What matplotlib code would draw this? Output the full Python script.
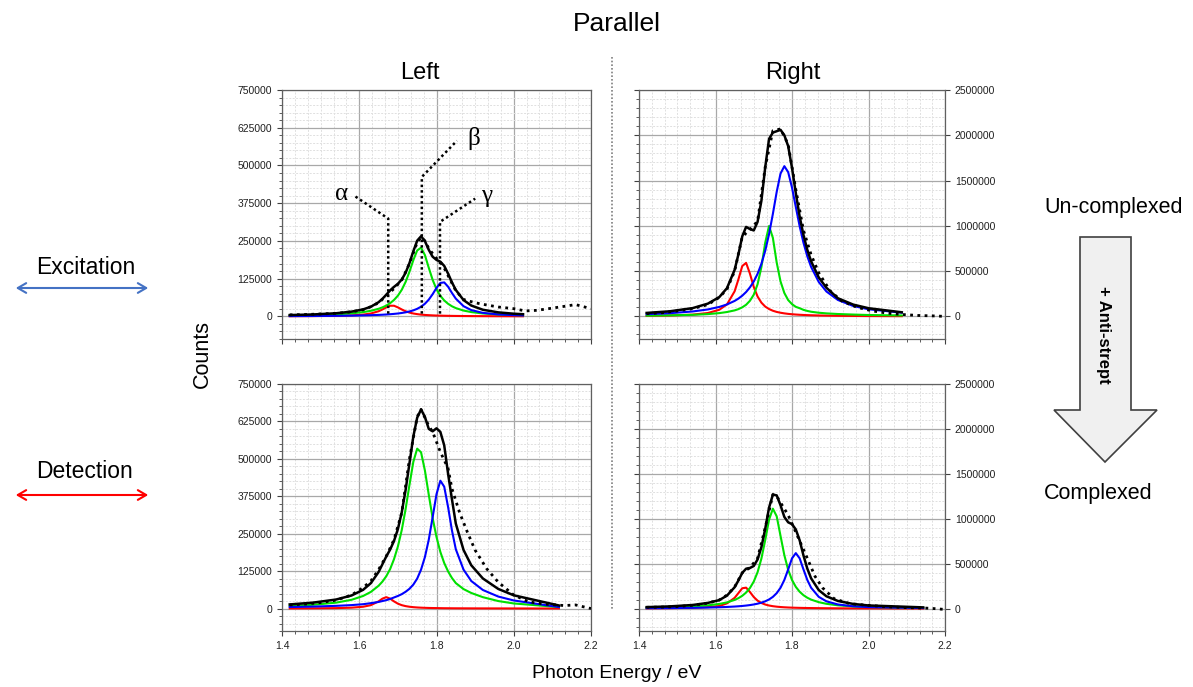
import matplotlib
matplotlib.use("Agg")
import matplotlib.pyplot as plt
from matplotlib.ticker import MultipleLocator, AutoMinorLocator, FormatStrFormatter
from matplotlib.patches import Polygon, FancyArrowPatch
from matplotlib.lines import Line2D

plt.rcParams["font.family"] = ["Liberation Sans", "DejaVu Sans"]

# ---------------------------------------------------------------- data
# energy grid of the fitted curves (eV); each panel ends at its own fit limit
fit_energy = [1.42, 1.48, 1.54, 1.58, 1.61, 1.63, 1.65, 1.66, 1.67, 1.68, 1.69,
              1.70, 1.71, 1.72, 1.73, 1.74, 1.75, 1.76, 1.77, 1.78, 1.79, 1.80,
              1.81, 1.82, 1.83, 1.84, 1.85, 1.87, 1.89, 1.92, 1.96, 2.00]
energy_tl = fit_energy + [2.024]
energy_tr = fit_energy + [2.087]
energy_bl = fit_energy + [2.117]
energy_br = fit_energy + [2.143]

# excitation, un-complexed
tl_alpha = [550, 910, 1770, 3240, 5800, 9500, 16900, 22900, 29800, 35200, 35200,
            29800, 22900, 16900, 12600, 9500, 7400, 5800, 4700, 3900, 3240, 2700,
            2350, 2030, 1770, 1560, 1380, 1110, 910, 700, 510, 390, 340]
tl_beta = [2850, 4200, 6700, 9950, 14100, 18500, 25100, 29800, 35800, 43800, 54300,
           68500, 87900, 114000, 147800, 186300, 218400, 227500, 203000, 161000, 121000, 90000,
           68000, 52700, 41600, 33400, 27400, 19200, 14200, 9600, 6300, 4400, 3700]
tl_gamma = [890, 1230, 1800, 2450, 3200, 3900, 4850, 5450, 6200, 7100, 8200,
            9500, 11200, 13400, 16200, 19900, 25000, 32000, 41800, 55400, 73500, 94300,
            110800, 112500, 98300, 77500, 58700, 33700, 20800, 11600, 6400, 4000, 3100]
tl_fit = [4290, 6340, 10270, 15640, 23100, 31900, 46850, 58150, 71800, 86100, 97700,
          107800, 122000, 144300, 176600, 215700, 250800, 265300, 249500, 220300, 197700, 187000,
          181150, 167230, 141670, 112460, 87480, 54010, 35910, 21900, 13210, 8790, 7140]
tl_data_energy = [1.42, 1.46, 1.50, 1.54, 1.58, 1.61, 1.63, 1.65, 1.67, 1.69, 1.71, 1.73,
                  1.75, 1.76, 1.77, 1.78, 1.79, 1.80, 1.81, 1.82, 1.83, 1.85, 1.87, 1.90,
                  1.92, 1.96, 2.00, 2.03, 2.06, 2.09, 2.13, 2.16, 2.20]
tl_data = [5000, 6000, 8000, 10000, 15000, 22000, 32000, 45000, 68000, 92000, 120000, 175000,
           245000, 262000, 250000, 225000, 208000, 192000, 180000, 160000, 135000, 85000, 56000, 45000,
           40000, 31000, 25500, 18000, 20000, 25500, 33000, 39000, 25500]

# excitation, complexed partner (right)
tr_alpha = [5700, 9500, 19000, 37000, 73000, 132000, 277000, 410000, 556000, 591000, 472000,
            325000, 219000, 151500, 108000, 81000, 62000, 49000, 40000, 33000, 27500, 23500,
            20200, 17500, 15400, 13600, 12100, 9800, 8100, 6300, 4700, 3500, 2200]
tr_beta = [8000, 11000, 17000, 25000, 36000, 48000, 66000, 80000, 100000, 128000, 172000,
           239000, 355000, 545000, 814000, 998000, 867000, 594000, 386000, 258000, 180000, 135000,
           105000, 90000, 72000, 60000, 51000, 40000, 33000, 26000, 20000, 15000, 10000]
tr_gamma = [24400, 34900, 53900, 76500, 104300, 131700, 170500, 196600, 228800, 268900, 320300,
            384900, 470000, 580000, 724000, 908500, 1132000, 1375000, 1577000, 1659000, 1593000, 1422000,
            1207000, 995800, 813000, 663600, 545700, 379600, 274700, 181100, 114400, 78300, 41200]
tr_fit = [38100, 55600, 90800, 140400, 213000, 311700, 513500, 686600, 884800, 987900, 964300,
          948900, 1044000, 1276500, 1646000, 1960000, 2030000, 2045000, 2060000, 2000000, 1880000, 1640000,
          1360000, 1103000, 898000, 735000, 608000, 429000, 316000, 200000, 130000, 90000, 45000]
tr_data_energy = [1.42, 1.46, 1.50, 1.54, 1.58, 1.61, 1.63, 1.65, 1.67, 1.69, 1.71, 1.73,
                  1.75, 1.77, 1.79, 1.81, 1.83, 1.85, 1.87, 1.90, 1.93, 1.97, 2.01, 2.05,
                  2.09, 2.13, 2.17, 2.20]
tr_data = [30000, 40000, 60000, 85000, 130000, 210000, 300000, 500000, 880000, 960000, 1050000, 1650000,
           2050000, 2070000, 1900000, 1400000, 950000, 680000, 480000, 280000, 170000, 100000, 60000, 35000,
           20000, 10000, 5000, 0]

# detection, un-complexed
bl_alpha = [400, 700, 1400, 2900, 6000, 11300, 23900, 33100, 38000, 33100, 23900,
            16300, 11300, 8100, 6000, 4600, 3600, 2900, 2400, 2000, 1700, 1500,
            1300, 1100, 1000, 900, 800, 700, 600, 500, 400, 300, 200]
bl_beta = [8300, 12500, 19700, 29200, 42000, 55500, 76000, 90000, 108000, 132000, 165000,
           207000, 262000, 332000, 413000, 490000, 534000, 522000, 461000, 380000, 302000, 239000,
           189000, 152000, 124000, 102000, 85000, 65000, 52000, 38000, 25000, 17000, 5000]
bl_gamma = [5000, 6500, 9000, 11500, 14500, 18000, 22000, 25000, 28000, 32000, 37000,
            42000, 48000, 56000, 66000, 80000, 100000, 130000, 172000, 230000, 305000, 382000,
            427000, 407000, 339000, 261000, 198000, 130000, 92000, 62000, 40000, 27000, 5000]
bl_fit = [13700, 19700, 30100, 43600, 62500, 84800, 121900, 148100, 174000, 197100, 225900,
          265300, 321300, 396100, 485000, 574600, 637600, 665000, 640000, 600000, 592000, 602000,
          590000, 545000, 450000, 365000, 283800, 195700, 144600, 100500, 65400, 44300, 10200]
bl_data_energy = [1.42, 1.46, 1.50, 1.54, 1.58, 1.61, 1.63, 1.65, 1.67, 1.69, 1.71, 1.73,
                  1.75, 1.76, 1.78, 1.79, 1.81, 1.83, 1.84, 1.86, 1.88, 1.90, 1.93, 1.96,
                  2.00, 2.04, 2.08, 2.13, 2.16, 2.20]
bl_data = [12000, 15000, 20000, 28000, 45000, 70000, 92000, 130000, 175000, 230000, 320000, 500000,
           640000, 665000, 610000, 590000, 523000, 468000, 400000, 320000, 255000, 195000, 133000, 88000,
           45000, 22000, 15000, 10000, 12000, 0]

# detection, complexed
br_alpha = [2400, 4000, 8100, 16300, 28200, 57600, 119000, 172600, 226000, 232500, 184500,
            128500, 87800, 61600, 44800, 33700, 26200, 20900, 16900, 14000, 11800, 10000,
            8700, 7600, 6700, 5900, 5300, 4300, 3500, 2700, 2000, 1500, 700]
br_beta = [9600, 14400, 23500, 35400, 51300, 68700, 95900, 115700, 142200, 178100, 228500,
           300000, 404700, 556500, 762800, 988500, 1112000, 1027000, 809000, 593600, 431000, 318000,
           240900, 187000, 148600, 120400, 99400, 70900, 52700, 36200, 23900, 17000, 6900]
br_gamma = [3900, 5400, 7900, 11000, 14500, 17800, 22300, 25300, 28800, 33200, 38600,
            45400, 54100, 65400, 80500, 101100, 130000, 171400, 231500, 318500, 435700, 558900,
            617000, 558900, 435700, 318500, 231500, 130000, 80500, 45400, 25300, 16000, 5300]
br_fit = [15900, 23800, 39500, 62700, 94000, 144100, 237200, 313600, 397000, 443800, 451600,
          473900, 546600, 683500, 888100, 1123300, 1268200, 1260000, 1150000, 1020000, 960000, 940000,
          880000, 760000, 591000, 444800, 336200, 205200, 136700, 84300, 51200, 34500, 12900]
br_data_energy = [1.42, 1.46, 1.50, 1.54, 1.58, 1.61, 1.63, 1.65, 1.67, 1.69, 1.71, 1.73,
                  1.75, 1.76, 1.77, 1.79, 1.81, 1.84, 1.86, 1.88, 1.91, 1.95, 2.00, 2.05,
                  2.10, 2.15, 2.17, 2.20]
br_data = [14000, 16000, 22000, 36000, 60000, 95000, 150000, 240000, 400000, 455000, 560000, 900000,
           1270000, 1250000, 1180000, 1040000, 850000, 560000, 360000, 230000, 110000, 55000, 35000, 20000,
           10000, 5000, 0, -10000]

peak_labels = ["\u03b1", "\u03b2", "\u03b3"]
peak_energy = [1.675, 1.762, 1.809]

# ---------------------------------------------------------------- layout
W, H = 1193, 687
fig = plt.figure(figsize=(W / 100, H / 100), dpi=100)


def fx(x):
    return x / W


def fy(y):
    return 1 - y / H


def add_panel(left, top, right, bottom):
    return fig.add_axes([fx(left), fy(bottom), fx(right) - fx(left), fy(top) - fy(bottom)])


def style_panel(ax, ymax, ystep, right_labels, show_x):
    ax.set_xlim(1.4, 2.2)
    ax.set_ylim(-ystep * 0.6 if ystep < 200000 else -ystep * 0.5, ymax)
    ax.xaxis.set_major_locator(MultipleLocator(0.2))
    ax.xaxis.set_minor_locator(AutoMinorLocator(6))
    ax.xaxis.set_major_formatter(FormatStrFormatter("%.1f"))
    ax.yaxis.set_major_locator(MultipleLocator(ystep))
    ax.yaxis.set_minor_locator(AutoMinorLocator(5))
    ax.yaxis.set_major_formatter(FormatStrFormatter("%d"))
    ax.grid(which="major", color="#a8a8a8", lw=0.9)
    ax.grid(which="minor", color="#e0e0e0", lw=0.7, ls=(0, (2, 1.5)))
    ax.set_axisbelow(True)
    for s in ax.spines.values():
        s.set_color("#606060")
        s.set_linewidth(0.9)
    ax.tick_params(which="both", direction="out", labelsize=7.5, colors="#404040",
                   labelcolor="#202020")
    ax.tick_params(which="major", length=3.5)
    ax.tick_params(which="minor", length=2)
    ax.tick_params(axis="x", labelbottom=show_x)
    if right_labels:
        ax.tick_params(axis="y", left=True, right=True, labelleft=False, labelright=True)


def draw_spectrum(ax, energy, alpha, beta, gamma, fit, data_energy, data):
    ax.plot(energy, alpha, color="#ff0000", lw=1.5, zorder=3)
    ax.plot(energy, beta, color="#00e000", lw=1.5, zorder=3)
    ax.plot(energy, gamma, color="#0000ff", lw=1.5, zorder=3)
    ax.plot(energy, fit, color="black", lw=1.8, zorder=4)
    ax.plot(data_energy, data, color="black", lw=2.0, ls=(0, (1, 1.6)),
            dash_capstyle="butt", zorder=5)


ax_tl = add_panel(282, 90, 591, 339)
ax_tr = add_panel(639, 90, 945, 339)
ax_bl = add_panel(282, 384, 591, 631)
ax_br = add_panel(639, 384, 945, 631)

style_panel(ax_tl, 750000, 125000, False, False)
style_panel(ax_tr, 2500000, 500000, True, False)
style_panel(ax_bl, 750000, 125000, False, True)
style_panel(ax_br, 2500000, 500000, True, True)

draw_spectrum(ax_tl, energy_tl, tl_alpha, tl_beta, tl_gamma, tl_fit, tl_data_energy, tl_data)
draw_spectrum(ax_tr, energy_tr, tr_alpha, tr_beta, tr_gamma, tr_fit, tr_data_energy, tr_data)
draw_spectrum(ax_bl, energy_bl, bl_alpha, bl_beta, bl_gamma, bl_fit, bl_data_energy, bl_data)
draw_spectrum(ax_br, energy_br, br_alpha, br_beta, br_gamma, br_fit, br_data_energy, br_data)

# dotted leaders from each fitted component to its label
leaders = [(324000, -0.086, 74000, -0.034), (462000, 0.091, 120000, 0.043),
           (313000, 0.091, 77000, 0.030)]
for lab, e0, (top, dx, dy, tx) in zip(peak_labels, peak_energy, leaders):
    ax_tl.plot([e0, e0, e0 + dx], [9000, top, top + dy], color="black", lw=1.8,
               ls=(0, (1, 1.2)), dash_capstyle="butt", zorder=6)
    ax_tl.text(e0 + dx + tx, top + dy + 8000, lab, ha="center", va="center",
               fontsize=18, family=["Liberation Serif", "DejaVu Serif"], zorder=7)

# ---------------------------------------------------------------- figure text
fig.text(fx(617), fy(24), "Parallel", ha="center", va="center", fontsize=19)
fig.text(fx(420), fy(73), "Left", ha="center", va="center", fontsize=17)
fig.text(fx(793), fy(73), "Right", ha="center", va="center", fontsize=17)
fig.text(fx(202), fy(354), "Counts", ha="center", va="center", rotation=90, fontsize=15.5)
fig.text(fx(617), fy(674), "Photon Energy / eV", ha="center", va="center", fontsize=14)
fig.text(fx(86), fy(267), "Excitation", ha="center", va="center", fontsize=16.5)
fig.text(fx(84), fy(471), "Detection", ha="center", va="center", fontsize=16.5)
fig.text(fx(1114), fy(208), "Un-complexed", ha="center", va="center", fontsize=15.5)
fig.text(fx(1098), fy(493), "Complexed", ha="center", va="center", fontsize=15.5)

fig.add_artist(Line2D([fx(612), fx(612)], [fy(57), fy(610)], color="#7f7f7f", lw=1.2,
                      ls=(0, (1, 1.2))))

for y, col in [(288, "#4472c4"), (495, "#ff0000")]:
    fig.add_artist(FancyArrowPatch((fx(13), fy(y)), (fx(151), fy(y)),
                                   transform=fig.transFigure, color=col, lw=1.5,
                                   arrowstyle="<->,head_length=6,head_width=3.5"))

block = [(1080, 237), (1131, 237), (1131, 410), (1157, 410), (1105, 462),
         (1054, 410), (1080, 410)]
fig.add_artist(Polygon([(fx(x), fy(y)) for x, y in block], closed=True,
                       transform=fig.transFigure, facecolor="#f0f0f0",
                       edgecolor="#404040", lw=1.2))
fig.text(fx(1104), fy(335), "+ Anti-strept", ha="center", va="center", rotation=-90,
         fontsize=12, fontweight="bold")

fig.savefig("out.png", dpi=100)
